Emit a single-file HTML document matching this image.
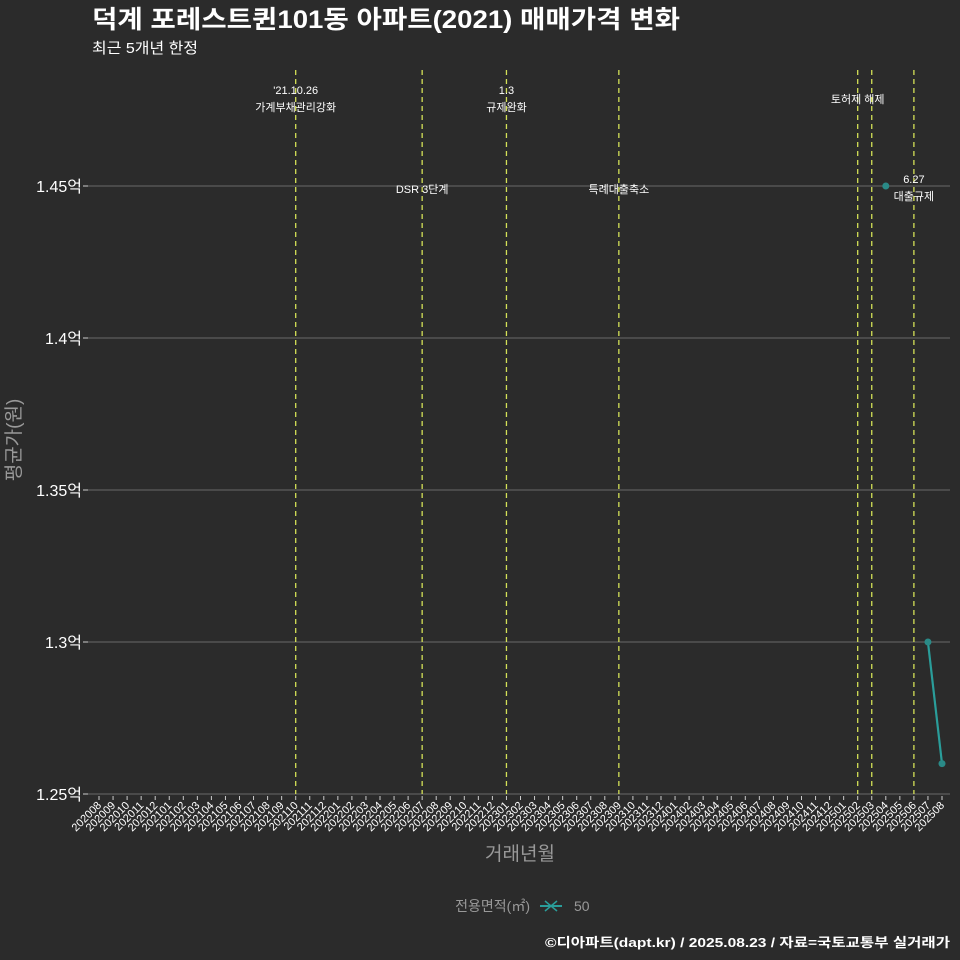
<!DOCTYPE html>
<html><head><meta charset="utf-8">
<style>
html,body{margin:0;padding:0;background:#2b2b2b;}
svg{display:block;font-family:"Liberation Sans","Noto Sans CJK KR",sans-serif;}
</style></head>
<body>
<svg id="chart" width="960" height="960" viewBox="0 0 960 960">
<rect x="0" y="0" width="960" height="960" fill="#2b2b2b"/>
<text x="92" y="28" fill="#fff" font-size="25" font-weight="bold" textLength="588" lengthAdjust="spacingAndGlyphs">덕계 포레스트퀸101동 아파트(2021) 매매가격 변화</text>
<text x="92" y="53" fill="#fff" font-size="15" textLength="106" lengthAdjust="spacingAndGlyphs">최근 5개년 한정</text>
<g id="grid"></g>
<g id="events"></g>
<g id="xaxis"></g>
<g id="yaxis"></g>
<g id="series"></g>
<text x="20" y="440" fill="#999" font-size="19" transform="rotate(-90 20 440)" text-anchor="middle">평균가(원)</text>
<text x="520" y="860" fill="#999" font-size="19" text-anchor="middle">거래년월</text>
<g>
<text x="530" y="911" fill="#999" font-size="14" text-anchor="end">전용면적(㎡)</text>
<g>
<line x1="540" y1="906" x2="562" y2="906" stroke="#2a9d9a" stroke-width="2"/>
<path d="M545 901 L557 911 M545 911 L557 901" stroke="#2a9d9a" stroke-width="1.5"/>
<text x="574" y="911" fill="#999" font-size="14">50</text>
</g>
</g>
<text x="950" y="947" fill="#fff" font-size="13" font-weight="bold" text-anchor="end" textLength="405" lengthAdjust="spacingAndGlyphs">©디아파트(dapt.kr) / 2025.08.23 / 자료=국토교통부 실거래가</text>
</svg>
<script>
const categories=[];
for(let y=2020;y<=2025;y++){for(let m=1;m<=12;m++){const k=y*100+m;if(k>=202008&&k<=202508)categories.push(String(k));}}
const series50=[null,null,null,null,null,null,null,null,null,null,null,null,null,null,null,null,null,null,null,null,null,null,null,null,null,null,null,null,null,null,null,null,null,null,null,null,null,null,null,null,null,null,null,null,null,null,null,null,null,null,null,null,null,null,null,null,1.45,null,null,1.30,1.26];
const yTicks=[1.25,1.3,1.35,1.4,1.45];
const yTickLabels=["1.25억","1.3억","1.35억","1.4억","1.45억"];
const eventMonths=["202110","202207","202301","202309","202502","202503","202506"];
const eventLabels=[["'21.10.26","가계부채관리강화"],["DSR 3단계"],["1.3","규제완화"],["특례대출축소"],["토허제 해제"],[],["6.27","대출규제"]];
const eventLabelY=[[94,111],[193],[94,111],[193],[103],[],[183,200]];

const NS="http://www.w3.org/2000/svg";
const x0=99,x1=942,L=88,R=950;
const xs=i=>x0+(x1-x0)*i/(categories.length-1);
const ys=v=>794-(v-1.25)/0.2*608;
function mk(tag,attrs,parent){const e=document.createElementNS(NS,tag);for(const k in attrs)e.setAttribute(k,attrs[k]);parent.appendChild(e);return e;}
const grid=document.getElementById('grid'),yax=document.getElementById('yaxis'),xax=document.getElementById('xaxis'),ev=document.getElementById('events'),ser=document.getElementById('series');
yTicks.forEach((t,i)=>{
  const g=mk('line',{x1:L,x2:R,y1:ys(t),y2:ys(t),stroke:'#6a6a6a','stroke-width':1.1},grid);
  
  
  mk('line',{x1:L-5,x2:L,y1:ys(t),y2:ys(t),stroke:'#ccc'},yax);
  const tx=mk('text',{x:L-6,y:ys(t)+6,fill:'#fff','font-size':16,'text-anchor':'end'},yax);
  tx.textContent=yTickLabels[i];
  
  
});
categories.forEach((c,i)=>{
  const x=xs(i);
  mk('line',{x1:x,x2:x,y1:796,y2:800,stroke:'#ccc'},xax);
  const t=mk('text',{x:x+3,y:806,fill:'#fff','font-size':11,'text-anchor':'end',transform:`rotate(-45 ${x+3} 806)`},xax);
  t.textContent=c;
  
  
});
eventMonths.forEach((m,k)=>{
  const x=xs(categories.indexOf(m));
  const l=mk('line',{x1:x,x2:x,y1:70,y2:794,stroke:'#d4e157','stroke-width':1.3,'stroke-dasharray':'5,4'},ev);
  
  
  eventLabels[k].forEach((s,j)=>{
    const t=mk('text',{x:x,y:eventLabelY[k][j],fill:'#fff','font-size':11,'text-anchor':'middle'},ev);
    t.textContent=s;
    
    
  });
});
let seg=[];
const segs=[];
series50.forEach((v,i)=>{if(v==null){if(seg.length)segs.push(seg);seg=[];}else seg.push([xs(i),ys(v)]);});
if(seg.length)segs.push(seg);
segs.forEach(s=>{if(s.length>1){const p=mk('polyline',{points:s.map(a=>a.join(',')).join(' '),fill:'none',stroke:'#2a9d9a','stroke-width':2.2},ser);}});
series50.forEach((v,i)=>{if(v!=null){const c=mk('circle',{cx:xs(i),cy:ys(v),r:3.5,fill:'#2a8a87'},ser);}});
</script>
</body></html>
